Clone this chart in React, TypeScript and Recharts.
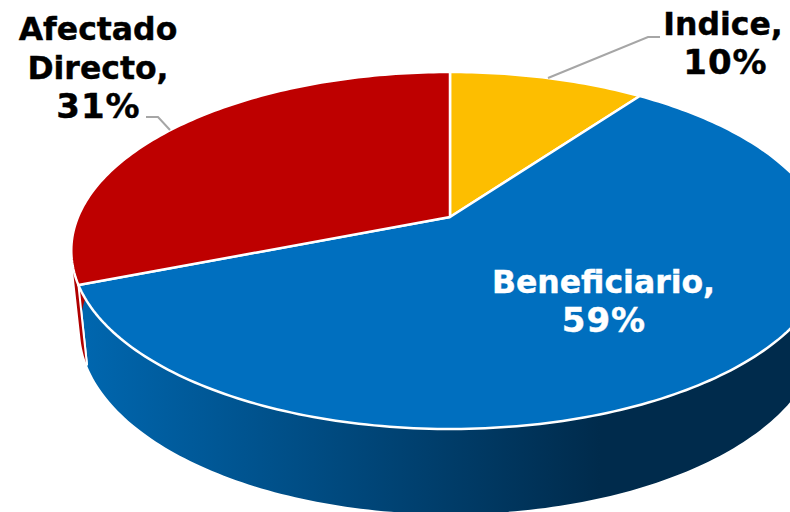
import { PieChart, Pie } from "recharts";

const categories = ["Indice", "Beneficiario", "Afectado Directo"];
const shares = [10, 59, 31];

const topColors = ["#FDBE00", "#006FBF", "#BE0000"];
const wallColors = ["#FDBE00", "url(#wallBlue)", "#B00000"];
const labelColors = ["#000000", "#FFFFFF", "#000000"];

const topData = categories.map((name, i) => ({ name, value: shares[i], fill: topColors[i] }));
const wallData = categories.map((name, i) => ({ name, value: shares[i], fill: wallColors[i] }));

// tilted disc: perspective applied to the unit circle, rim of the top face and rim of the base
const TOP_RIM = { cy: 217, rx: 372, ry: 172.2, k: 0.1877 };
const BASE_RIM = { cy: 295, rx: 363.4, ry: 178, k: 0.1877 };

type Rim = typeof TOP_RIM;

function rimPoint(cx: number, rim: Rim, angle: number) {
  // angle is the recharts one: degrees counter-clockwise from 3 o'clock
  const a = ((90 - angle) * Math.PI) / 180;
  const w = 1 + rim.k * Math.cos(a);
  return [cx + (rim.rx * Math.sin(a)) / w, rim.cy - (rim.ry * Math.cos(a)) / w];
}

function rimArc(cx: number, rim: Rim, from: number, to: number) {
  const steps = Math.ceil(Math.abs(to - from));
  const pts = [];
  for (let i = 0; i <= steps; i++) {
    pts.push(rimPoint(cx, rim, from + ((to - from) * i) / steps));
  }
  return pts;
}

const toPath = (pts: number[][]) =>
  "M" + pts.map(([x, y]) => `${x.toFixed(2)} ${y.toFixed(2)}`).join("L") + "Z";

function TopSlice(props: any) {
  const { cx, cy, startAngle, endAngle, fill } = props;
  const arc = rimArc(cx, TOP_RIM, startAngle, endAngle);
  return (
    <path
      d={toPath([[cx, cy], ...arc])}
      fill={fill}
      stroke="#FFFFFF"
      strokeWidth={2.5}
      strokeLinejoin="round"
    />
  );
}

function WallSlice(props: any) {
  const { cx, startAngle, endAngle, fill } = props;
  const upper = rimArc(cx, TOP_RIM, startAngle, endAngle);
  const lower = rimArc(cx, BASE_RIM, startAngle, endAngle);
  // one quad per step, all wound the same way, so the silhouette is the straight tangent edge
  let d = "";
  for (let i = 0; i < upper.length - 1; i++) {
    const quad = [upper[i], upper[i + 1], lower[i + 1], lower[i]];
    let area = 0;
    quad.forEach(([x, y], j) => {
      const [nx, ny] = quad[(j + 1) % 4];
      area += x * ny - nx * y;
    });
    d += toPath(area < 0 ? quad.reverse() : quad);
  }
  const last = upper.length - 1;
  return (
    <g>
      <path d={d} fill={fill} stroke="none" fillRule="nonzero" />
      <path
        d={`M${upper[0].join(" ")}L${lower[0].join(" ")}M${upper[last].join(" ")}L${lower[last].join(" ")}`}
        fill="none"
        stroke="#FFFFFF"
        strokeWidth={2}
      />
    </g>
  );
}

const labelSpots: Record<string, { x: number; y: number; pctX: number; leader?: string }> = {
  Indice: { x: 723, y: 35, pctX: 725, leader: "M548 78L648 37L660 37" },
  Beneficiario: { x: 603.5, y: 293, pctX: 603.5 },
  "Afectado Directo": { x: 98, y: 40, pctX: 98, leader: "M170 130L158 117L146 117" },
};

function SliceLabel(props: any) {
  const { name, value, index } = props;
  const spot = labelSpots[name];
  const words = `${name},`.split(" ");
  const color = labelColors[index];
  return (
    <g>
      {spot.leader && <path d={spot.leader} fill="none" stroke="#A6A6A6" strokeWidth={2} />}
      <text
        x={spot.x}
        y={spot.y}
        textAnchor="middle"
        fontFamily="'DejaVu Sans', sans-serif"
        fontWeight={700}
        fontSize={31.5}
        fill={color}
        stroke={color}
        strokeWidth={0.4}
      >
        {words.map((w, i) => (
          <tspan key={w} x={spot.x} dy={i === 0 ? 0 : 39}>
            {w}
          </tspan>
        ))}
        <tspan x={spot.pctX + 0.5} dy={39} fontSize={34} letterSpacing={1}>{`${value}%`}</tspan>
      </text>
    </g>
  );
}

export default function App() {
  return (
    <div style={{ position: "absolute", left: 0, top: 0, width: 790, height: 512, overflow: "hidden" }}>
      <PieChart width={790} height={512} margin={{ top: 0, right: 0, bottom: 0, left: 0 }}>
        <defs>
          <linearGradient id="wallBlue" gradientUnits="userSpaceOnUse" x1={87} y1={0} x2={600} y2={0}>
            <stop offset="0%" stopColor="#0066AE" />
            <stop offset="100%" stopColor="#002B4C" />
          </linearGradient>
        </defs>
        <Pie
          data={wallData}
          dataKey="value"
          nameKey="name"
          cx={450}
          cy={217}
          innerRadius={0}
          outerRadius={372}
          startAngle={90}
          endAngle={-270}
          stroke="none"
          shape={WallSlice}
          label={false}
          labelLine={false}
          isAnimationActive={false}
        />
        <Pie
          data={topData}
          dataKey="value"
          nameKey="name"
          cx={450}
          cy={217}
          innerRadius={0}
          outerRadius={372}
          startAngle={90}
          endAngle={-270}
          stroke="none"
          shape={TopSlice}
          label={SliceLabel}
          labelLine={false}
          isAnimationActive={false}
        />
      </PieChart>
    </div>
  );
}
